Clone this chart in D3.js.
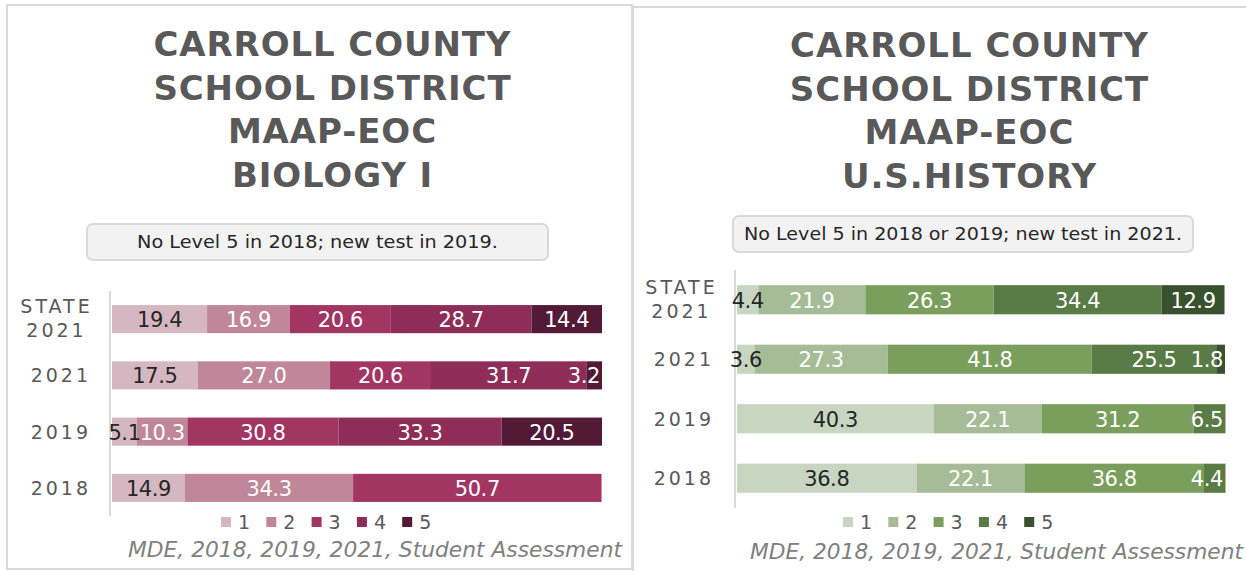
<!DOCTYPE html>
<html>
<head>
<meta charset="utf-8">
<script src="https://cdn.jsdelivr.net/npm/d3@7"></script>
<style>
  body { margin: 0; background: #fff; }
  svg text { font-family: "DejaVu Sans", sans-serif; }
</style>
</head>
<body>
<script>

// Performance levels (legend keys)
var levels = ["1", "2", "3", "4", "5"];

// Biology I
var bioTitle = ["CARROLL COUNTY", "SCHOOL DISTRICT", "MAAP-EOC", "BIOLOGY I"];
var bioNote = "No Level 5 in 2018; new test in 2019.";
var bioCategories = ["STATE 2021", "2021", "2019", "2018"];
var bioLevel1 = [19.4, 17.5, 5.1, 14.9];
var bioLevel2 = [16.9, 27.0, 10.3, 34.3];
var bioLevel3 = [20.6, 20.6, 30.8, 50.7];
var bioLevel4 = [28.7, 31.7, 33.3, null];
var bioLevel5 = [14.4, 3.2, 20.5, null];
var bioColors = ["#d5b7c2", "#bf8799", "#a33563", "#8e2d57", "#521a35"];

// U.S. History
var histTitle = ["CARROLL COUNTY", "SCHOOL DISTRICT", "MAAP-EOC", "U.S.HISTORY"];
var histNote = "No Level 5 in 2018 or 2019; new test in 2021.";
var histCategories = ["STATE 2021", "2021", "2019", "2018"];
var histLevel1 = [4.4, 3.6, 40.3, 36.8];
var histLevel2 = [21.9, 27.3, 22.1, 22.1];
var histLevel3 = [26.3, 41.8, 31.2, 36.8];
var histLevel4 = [34.4, 25.5, 6.5, 4.4];
var histLevel5 = [12.9, 1.8, null, null];
var histColors = ["#c7d5c1", "#a5bc97", "#7a9f5d", "#597b45", "#3a5130"];

var sourceText = "MDE, 2018, 2019, 2021, Student Assessment";

var width = 1246, height = 571;

var svg = d3.select("body")
  .append("svg")
  .attr("width", width)
  .attr("height", height);

svg.append("rect").attr("width", width).attr("height", height).attr("fill", "#fff");

// panel frames
svg.append("rect")
  .attr("x", 7).attr("y", 5).attr("width", 625).attr("height", 564)
  .attr("fill", "none").attr("stroke", "#d9d9d9").attr("stroke-width", 2);
svg.append("rect")
  .attr("x", 633).attr("y", 7).attr("width", 700).attr("height", 700)
  .attr("fill", "none").attr("stroke", "#d9d9d9").attr("stroke-width", 2);

function drawPanel(p) {
  var g = svg.append("g");

  // title - letter spacing worked out so the first line gets its width
  var titleTexts = p.title.map(function(line, i) {
    return g.append("text")
      .attr("x", p.titleX)
      .attr("y", p.titleY + i * 43.5)
      .attr("text-anchor", "middle")
      .attr("font-family", "Lato, 'DejaVu Sans', sans-serif")
      .attr("font-size", 34)
      .attr("font-weight", "bold")
      .attr("fill", "#595959")
      .text(line);
  });
  var natural = titleTexts[0].node().getComputedTextLength();
  var ls = Math.max(0, (p.titleW - natural) / (p.title[0].length - 1));
  titleTexts.forEach(function(t) {
    t.attr("letter-spacing", ls).attr("dx", ls / 2);
  });

  // note box
  g.append("rect")
    .attr("x", p.note.x).attr("y", p.note.y)
    .attr("width", p.note.w).attr("height", p.note.h)
    .attr("rx", 6)
    .attr("fill", "#f2f2f2").attr("stroke", "#d9d9d9").attr("stroke-width", 2);
  g.append("text")
    .attr("x", p.note.x + p.note.w / 2)
    .attr("y", p.note.y + p.note.h / 2 + 6)
    .attr("text-anchor", "middle")
    .attr("font-size", 17)
    .attr("fill", "#262626")
    .attr("textLength", p.note.tw)
    .attr("lengthAdjust", "spacingAndGlyphs")
    .text(p.noteText);

  // data table -> stack
  var rows = p.categories.map(function(c, i) {
    var r = { cat: c };
    levels.forEach(function(k, j) { r[k] = p.series[j][i] || 0; });
    return r;
  });
  var stacked = d3.stack().keys(levels)(rows);

  var x = d3.scaleLinear().domain([0, 100]).range([p.x0, p.x1]);
  var y = d3.scaleBand().domain(p.categories).range([p.y0, p.y1])
    .paddingInner(p.pad).paddingOuter(p.pad / 2);

  // axis line
  g.append("line")
    .attr("x1", p.x0 - 2).attr("x2", p.x0 - 2)
    .attr("y1", p.y0).attr("y2", p.y1)
    .attr("stroke", "#d9d9d9").attr("stroke-width", 2);

  stacked.forEach(function(layer, j) {
    layer.forEach(function(d, i) {
      var v = p.series[j][i];
      if (v == null) return;
      g.append("rect")
        .attr("x", x(d[0]))
        .attr("y", y(rows[i].cat))
        .attr("width", x(d[1]) - x(d[0]))
        .attr("height", y.bandwidth())
        .attr("fill", p.colors[j]);
    });
  });

  // value labels
  stacked.forEach(function(layer, j) {
    layer.forEach(function(d, i) {
      var v = p.series[j][i];
      if (v == null) return;
      var t = g.append("text")
        .attr("y", y(rows[i].cat) + y.bandwidth() / 2 + 8)
        .attr("text-anchor", "middle")
        .attr("font-size", 21)
        .attr("letter-spacing", -0.4)
        .attr("fill", j === 0 ? "#262626" : "#fff")
        .text(d3.format(".1f")(v));
      var w = t.node().getComputedTextLength();
      var cx = (x(d[0]) + x(d[1])) / 2;
      cx = Math.min(cx, p.x1 - w / 2 - 2);
      t.attr("x", cx);
    });
  });

  // category labels
  p.categories.forEach(function(c) {
    var parts = c.split(" ");
    var cy = y(c) + y.bandwidth() / 2;
    if (parts.length > 1) {
      parts.forEach(function(s, k) {
        g.append("text")
          .attr("x", p.catMid)
          .attr("y", cy - 6 + k * 24)
          .attr("text-anchor", "middle")
          .attr("font-size", 19)
          .attr("letter-spacing", 3)
          .attr("dx", 1.5)
          .attr("fill", "#595959")
          .text(s);
      });
    } else {
      g.append("text")
        .attr("x", p.catEnd)
        .attr("y", cy + 7)
        .attr("text-anchor", "end")
        .attr("font-size", 19)
        .attr("letter-spacing", 3)
        .attr("fill", "#595959")
        .text(c);
    }
  });

  // legend
  levels.forEach(function(k, j) {
    var lx = p.legendX + j * 45.3;
    g.append("rect")
      .attr("x", lx).attr("y", 517)
      .attr("width", 10).attr("height", 10)
      .attr("fill", p.colors[j]);
    g.append("text")
      .attr("x", lx + 17).attr("y", 529)
      .attr("font-size", 19)
      .attr("fill", "#595959")
      .text(k);
  });

  // source
  g.append("text")
    .attr("x", p.src.x).attr("y", p.src.y)
    .attr("font-size", 21)
    .attr("font-style", "italic")
    .attr("fill", "#808080")
    .attr("textLength", p.src.w)
    .attr("lengthAdjust", "spacingAndGlyphs")
    .text(sourceText);
}

drawPanel({
  title: bioTitle, titleX: 332, titleY: 56, titleW: 357,
  noteText: bioNote, note: { x: 87, y: 224, w: 461, h: 36, tw: 361 },
  categories: bioCategories,
  series: [bioLevel1, bioLevel2, bioLevel3, bioLevel4, bioLevel5],
  colors: bioColors,
  x0: 112, x1: 602, y0: 291, y1: 516, pad: 0.5,
  catMid: 55, catEnd: 91,
  legendX: 221,
  src: { x: 128, y: 557, w: 494 }
});

drawPanel({
  title: histTitle, titleX: 969, titleY: 57, titleW: 358,
  noteText: histNote, note: { x: 733, y: 216, w: 460, h: 36, tw: 438 },
  categories: histCategories,
  series: [histLevel1, histLevel2, histLevel3, histLevel4, histLevel5],
  colors: histColors,
  x0: 737, x1: 1225, y0: 270, y1: 508, pad: 0.51,
  catMid: 680, catEnd: 714,
  legendX: 843,
  src: { x: 750, y: 559, w: 493 }
});

</script>
</body>
</html>
